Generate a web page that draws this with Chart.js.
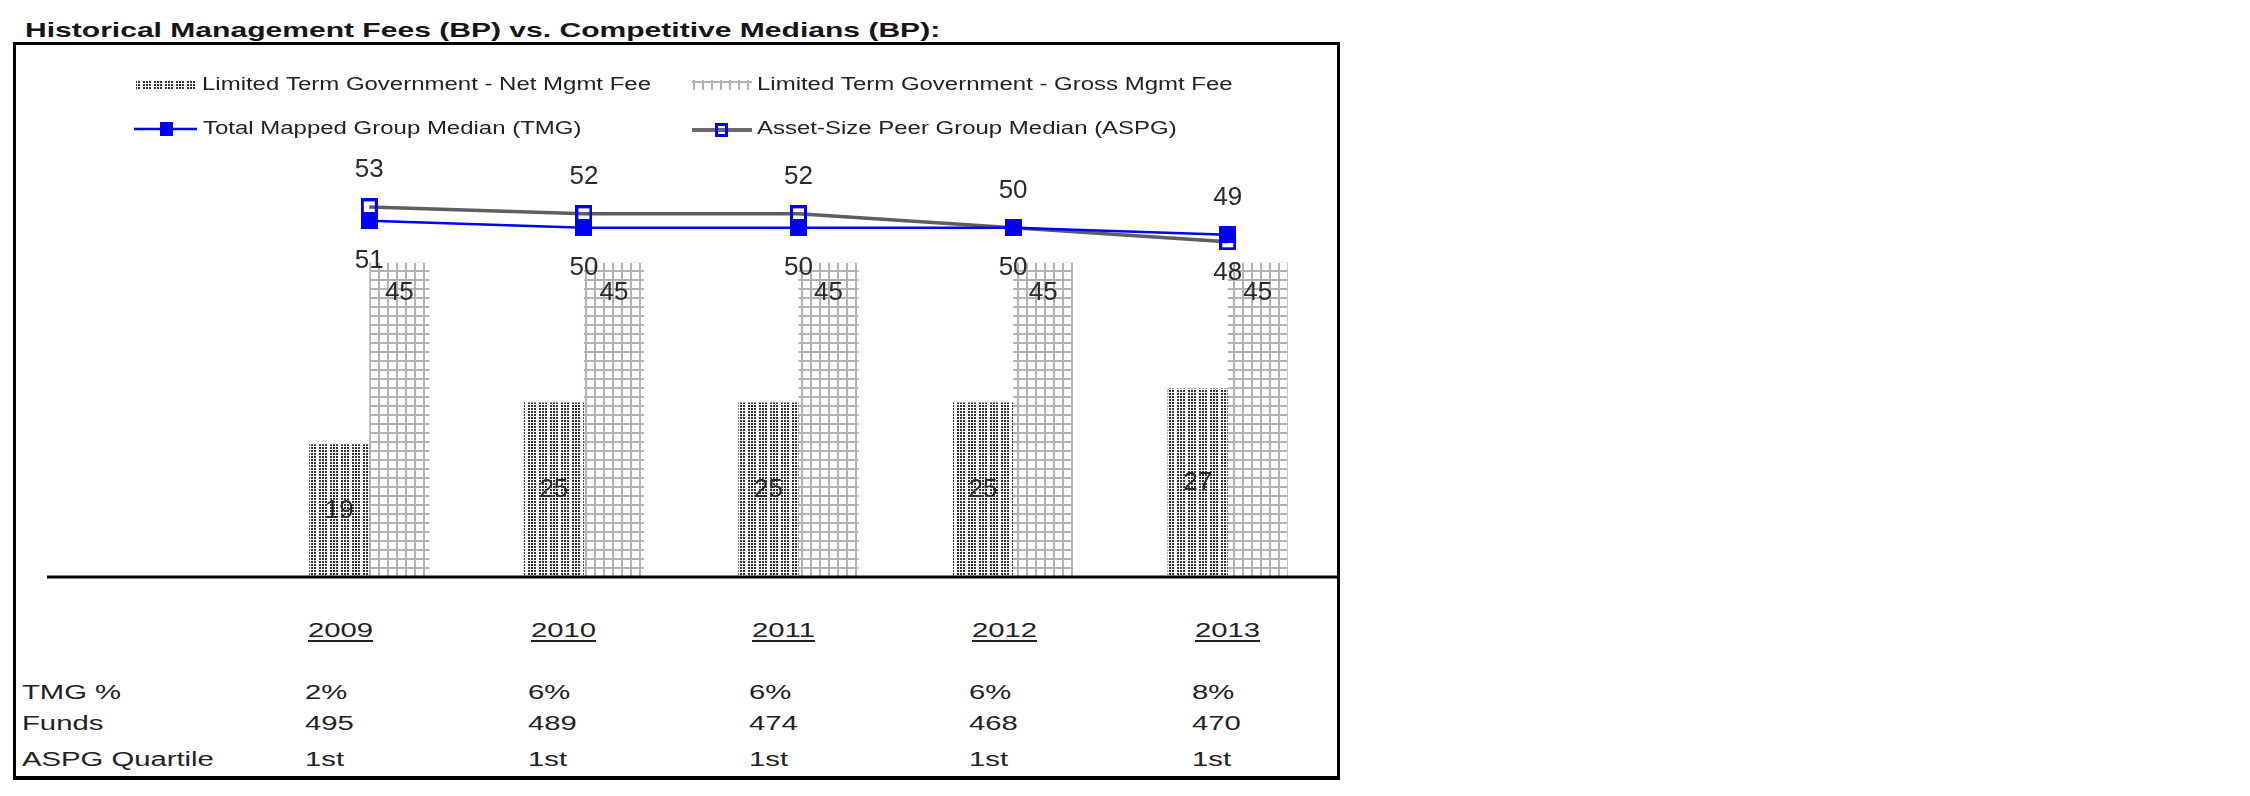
<!DOCTYPE html>
<html>
<head>
<meta charset="utf-8">
<script src="https://cdn.jsdelivr.net/npm/chart.js@4.4.1/dist/chart.umd.min.js"></script>
<style>
  body { margin: 0; background: #fff; width: 2250px; height: 796px; position: relative; overflow: hidden;
         font-family: "Liberation Sans", Arial, sans-serif; color: #222; }
  #title { position: absolute; left: 25px; top: 20px; font-size: 20.5px; line-height: 1; font-weight: bold;
           white-space: nowrap; transform: scaleX(1.466); transform-origin: left center; color: #151515; }
  #box { position: absolute; left: 13px; top: 42px; width: 1327px; height: 738px; box-sizing: border-box;
         border: 3px solid #000; border-bottom-width: 4px; }
  .cell { position: absolute; font-size: 19.5px; line-height: 1; white-space: nowrap;
          transform: scaleX(1.5); transform-origin: left center; }
  .year { text-decoration: underline; text-decoration-thickness: 2px; text-underline-offset: 3px; }
  #chart { position: absolute; left: 0; top: 0; }
</style>
</head>
<body>
<div id="title">Historical Management Fees (BP) vs. Competitive Medians (BP):</div>
<div id="box"></div>
<div id="table"></div>
<canvas id="chart" width="2250" height="796"></canvas>
<script>
// values
const years = ['2009', '2010', '2011', '2012', '2013'];
const netFee = [19, 25, 25, 25, 27];
const grossFee = [45, 45, 45, 45, 45];
const tmgMedian = [51, 50, 50, 50, 49];
const aspgMedian = [53, 52, 52, 50, 48];
const tmgPct = ['2%', '6%', '6%', '6%', '8%'];
const fundCounts = ['495', '489', '474', '468', '470'];
const aspgQuartile = ['1st', '1st', '1st', '1st', '1st'];
const rowLabels = ['TMG %', 'Funds', 'ASPG Quartile'];

// table below the plot
const colX = [305, 528, 749, 969, 1192];
const rowY = [692, 723, 759];
const table = document.getElementById('table');
function addCell(text, x, cy, cls) {
    const d = document.createElement('div');
    d.className = 'cell' + (cls ? ' ' + cls : '');
    d.textContent = text;
    d.style.left = x + 'px';
    d.style.top = (cy - 9.5) + 'px';
    table.appendChild(d);
}
years.forEach((y, i) => addCell(y, colX[i] + 3, 630, 'year'));
[tmgPct, fundCounts, aspgQuartile].forEach((row, r) => {
    addCell(rowLabels[r], 22, rowY[r]);
    row.forEach((v, i) => addCell(v, colX[i], rowY[r]));
});

// fill patterns
function makeTile(w, h, draw) {
    const c = document.createElement('canvas');
    c.width = w; c.height = h;
    const g = c.getContext('2d');
    g.fillStyle = '#fff';
    g.fillRect(0, 0, w, h);
    draw(g);
    return c;
}
const dotTile = makeTile(11, 3, g => {
    g.fillStyle = '#333';
    g.fillRect(0, 0, 2, 2);
    g.fillRect(3, 0, 2, 2);
    g.fillRect(6, 0, 2, 2);
});
const gridTile = makeTile(9, 9, g => {
    g.fillStyle = '#b3b3b3';
    g.fillRect(0, 0, 2, 9);
    g.fillRect(0, 0, 9, 2);
});
const patCtx = document.createElement('canvas').getContext('2d');
const netPattern = patCtx.createPattern(dotTile, 'repeat');
const grossPattern = patCtx.createPattern(gridTile, 'repeat');

// square markers
function markerCanvas(w, h, hollow) {
    const c = document.createElement('canvas');
    c.width = w; c.height = h;
    const g = c.getContext('2d');
    g.fillStyle = '#0000ff';
    g.fillRect(0, 0, w, h);
    if (hollow) g.clearRect(3, 3, w - 6, h - 6);
    return c;
}
const filledMark = markerCanvas(17, 17, false);
const hollowMark = markerCanvas(17, 17, true);
const filledMarkSmall = markerCanvas(13, 14, false);
const hollowMarkSmall = markerCanvas(13, 14, true);

function wideText(ctx, text, x, y, sx) {
    ctx.save();
    ctx.translate(x, y);
    ctx.scale(sx, 1);
    ctx.fillText(text, 0, 0);
    ctx.restore();
}

// legend drawn inside the box, two rows of two
const boxLegend = {
    id: 'boxLegend',
    afterDraw(chart) {
        const ctx = chart.ctx;
        const ds = chart.data.datasets;
        ctx.save();
        ctx.fillStyle = netPattern;
        ctx.fillRect(136, 80, 62, 10);
        ctx.fillStyle = grossPattern;
        ctx.fillRect(692, 80, 60, 10);

        ctx.strokeStyle = '#0000ff';
        ctx.lineWidth = 2.5;
        ctx.beginPath(); ctx.moveTo(134, 129); ctx.lineTo(197, 129); ctx.stroke();
        ctx.drawImage(filledMarkSmall, 160, 122);

        ctx.strokeStyle = '#6a6a6a';
        ctx.lineWidth = 4;
        ctx.beginPath(); ctx.moveTo(692, 130); ctx.lineTo(752, 130); ctx.stroke();
        ctx.drawImage(hollowMarkSmall, 715, 123);

        ctx.fillStyle = '#222';
        ctx.font = '17.5px "Liberation Sans", Arial, sans-serif';
        ctx.textBaseline = 'middle';
        wideText(ctx, ds[0].label, 202, 85, 1.37);
        wideText(ctx, ds[1].label, 757, 85, 1.37);
        wideText(ctx, ds[2].label, 203, 129, 1.37);
        wideText(ctx, ds[3].label, 757, 129, 1.37);
        ctx.restore();
    }
};

// value labels and the base line
const valueLabels = {
    id: 'valueLabels',
    afterDatasetsDraw(chart) {
        const ctx = chart.ctx;
        const y0 = chart.scales.y.getPixelForValue(0);
        ctx.save();
        ctx.strokeStyle = '#000';
        ctx.lineWidth = 3;
        ctx.beginPath(); ctx.moveTo(47, y0); ctx.lineTo(1339, y0); ctx.stroke();

        ctx.fillStyle = '#2a2a2a';
        ctx.font = '26px "Liberation Sans", Arial, sans-serif';
        ctx.textAlign = 'center';
        ctx.textBaseline = 'middle';

        chart.getDatasetMeta(0).data.forEach((bar, i) => {
            ctx.fillText(netFee[i], bar.x, (bar.y + bar.base) / 2);
        });
        chart.getDatasetMeta(1).data.forEach((bar, i) => {
            ctx.fillText(grossFee[i], bar.x, bar.y + 30);
        });
        // higher median of the pair goes above its marker, lower one below
        const tmgPts = chart.getDatasetMeta(2).data;
        const aspgPts = chart.getDatasetMeta(3).data;
        years.forEach((_, i) => {
            const tmgUp = tmgMedian[i] > aspgMedian[i];
            ctx.fillText(tmgMedian[i], tmgPts[i].x, tmgPts[i].y + (tmgUp ? -37 : 40));
            ctx.fillText(aspgMedian[i], aspgPts[i].x, aspgPts[i].y + (tmgUp ? 31 : -37));
        });
        ctx.restore();
    }
};

new Chart(document.getElementById('chart'), {
    type: 'bar',
    data: {
        labels: years,
        datasets: [{
            label: 'Limited Term Government - Net Mgmt Fee',
            data: netFee,
            backgroundColor: netPattern,
            order: 3
        }, {
            label: 'Limited Term Government - Gross Mgmt Fee',
            data: grossFee,
            backgroundColor: grossPattern,
            order: 3
        }, {
            type: 'line',
            label: 'Total Mapped Group Median (TMG)',
            data: tmgMedian,
            borderColor: '#0000ff',
            borderWidth: 2.5,
            pointStyle: filledMark,
            order: 1
        }, {
            type: 'line',
            label: 'Asset-Size Peer Group Median (ASPG)',
            data: aspgMedian,
            borderColor: '#5e5e5e',
            borderWidth: 3.5,
            pointStyle: hollowMark,
            order: 2
        }]
    },
    options: {
        responsive: false,
        animation: false,
        devicePixelRatio: 1,
        layout: { padding: { left: 262, right: 915, top: 158, bottom: 219 } },
        datasets: { bar: { categoryPercentage: 0.56, barPercentage: 1.0, borderWidth: 0 } },
        scales: {
            x: { display: false },
            y: { display: false, min: 0, max: 60 }
        },
        plugins: {
            legend: { display: false },
            tooltip: { enabled: false }
        }
    },
    plugins: [boxLegend, valueLabels]
});
</script>
</body>
</html>
